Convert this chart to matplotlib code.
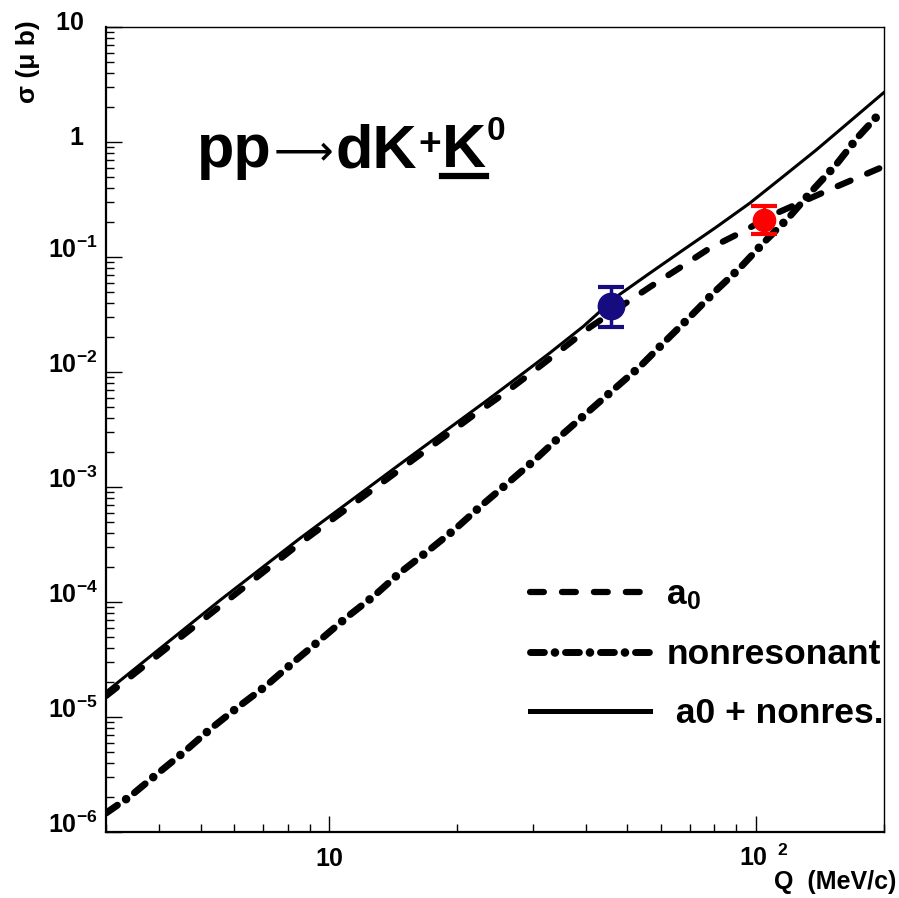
import numpy as np
import matplotlib
matplotlib.use('Agg')
import matplotlib.pyplot as plt
import matplotlib._mathtext as mathtext_internals
from matplotlib.ticker import FixedLocator, FixedFormatter, NullFormatter
from matplotlib.lines import Line2D
from matplotlib.legend_handler import HandlerTuple
from matplotlib.transforms import ScaledTranslation

plt.rcParams['font.family'] = ['Liberation Sans', 'DejaVu Sans']
plt.rcParams['font.weight'] = 'bold'
plt.rcParams['mathtext.fontset'] = 'custom'
plt.rcParams['mathtext.rm'] = 'Liberation Sans:bold'
plt.rcParams['mathtext.it'] = 'Liberation Sans:bold'
plt.rcParams['mathtext.bf'] = 'Liberation Sans:bold'
plt.rcParams['lines.scale_dashes'] = False
# exponents sit above the digits, like ROOT labels
mathtext_internals.FontConstantsBase.subdrop = -0.1

# a0 resonance contribution, sigma in mu b vs Q in MeV/c
q_a0 = [3.0, 8.55, 14.67, 21.8, 25.6, 30.1, 35.4, 40.9, 48.9, 56.5, 65.2,
        78.0, 91.7, 111.8, 154.5, 195.0]
sig_a0 = [1.52e-5, 3.24e-4, 1.42e-3, 4.2e-3, 6.4e-3, 1.01e-2, 1.61e-2,
          2.45e-2, 3.83e-2, 5.48e-2, 7.71e-2, 0.119, 0.161, 0.240, 0.408, 0.59]

# nonresonant part
q_nonres = [3.0, 3.41, 3.95, 4.58, 5.26, 6.10, 7.11, 8.22, 9.48, 11.0, 12.75,
            14.67, 17.09, 19.73, 22.79, 26.39, 30.37, 34.75, 40.13, 46.34,
            53.5, 61.2, 70.0, 80.2, 91.7, 105.0, 120.1, 136.2, 154.5, 173.6,
            198.0]
sig_nonres = [1.46e-6, 2.03e-6, 3.19e-6, 4.99e-6, 7.82e-6, 1.21e-5, 1.86e-5,
              2.96e-5, 4.60e-5, 7.36e-5, 1.13e-4, 1.80e-4, 2.79e-4, 4.29e-4,
              6.93e-4, 1.10e-3, 1.72e-3, 2.74e-3, 4.37e-3, 6.98e-3, 1.11e-2,
              1.83e-2, 2.99e-2, 4.99e-2, 7.97e-2, 0.136, 0.224, 0.383, 0.636,
              1.10, 1.87]

# sum of both
q_sum = [3.0, 5.56, 8.55, 14.67, 22.98, 27.5, 32.9, 39.4, 47.2, 56.5, 67.6,
         80.9, 96.8, 115.9, 138.7, 166.0, 200.0]
sig_sum = [1.65e-5, 1.04e-4, 3.58e-4, 1.58e-3, 5.35e-3, 8.81e-3, 1.46e-2,
           2.48e-2, 4.52e-2, 7.24e-2, 0.115, 0.182, 0.293, 0.499, 0.852, 1.50,
           2.70]

# measured points
q_blue = [45.8]
sig_blue = [0.0375]
blue_lo = [0.013]
blue_hi = [0.017]
q_red = [104.4]
sig_red = [0.21]
red_lo = [0.053]
red_hi = [0.069]

legend_labels = [r'a$_0$', 'nonresonant', ' a0 + nonres.']
ytick_vals = [1e-6, 1e-5, 1e-4, 1e-3, 1e-2, 1e-1, 1, 10]
ytick_labels = [r'$10^{-6}$', r'$10^{-5}$', r'$10^{-4}$', r'$10^{-3}$',
                r'$10^{-2}$', r'$10^{-1}$', '1  ', '10  ']
xtick_vals = [10, 100]
xtick_labels = ['10', r'$10^{\ \ 2}$']

W, H = 899, 898
fig = plt.figure(figsize=(W / 100, H / 100), dpi=100)
ax = fig.add_axes([106 / W, 1 - 832 / H, (884 - 106) / W, (832 - 27) / H])
ax.set_xscale('log')
ax.set_yscale('log')

l_sum, = ax.plot(q_sum, sig_sum, color='black', lw=2.2, solid_joinstyle='round')
# dashes given in points (scale_dashes off)
l_a0, = ax.plot(q_a0, sig_a0, color='black', lw=4.5, dashes=(10.0, 13.0),
                dash_capstyle='round')
# dash-dot: dashes plus slightly fatter dots on the same curve
l_nr, = ax.plot(q_nonres, sig_nonres, color='black', lw=5.0,
                dashes=(10.0, 15.2), dash_capstyle='round')
l_nr_dots, = ax.plot(q_nonres, sig_nonres, color='black', lw=6.2,
                     linestyle=(7.6, (0.01, 25.19)), dash_capstyle='round')

ax.errorbar(q_blue, sig_blue, yerr=[blue_lo, blue_hi], fmt='o', color='#160c80',
            ms=19, capsize=9.5, capthick=3, elinewidth=2.5, zorder=5)
ax.errorbar(q_red, sig_red, yerr=[red_lo, red_hi], fmt='o', color='#ff0000',
            ms=16, capsize=9.5, capthick=3, elinewidth=2.5, zorder=5)

ax.set_xlim(3, 200)
ax.set_ylim(1e-6, 10)

ax.yaxis.set_major_locator(FixedLocator(ytick_vals))
ax.yaxis.set_major_formatter(FixedFormatter(ytick_labels))
ymin = [m * 10.0**e for e in range(-6, 1) for m in range(2, 10)]
ax.yaxis.set_minor_locator(FixedLocator(ymin))
ax.yaxis.set_minor_formatter(NullFormatter())
ax.xaxis.set_major_locator(FixedLocator(xtick_vals))
ax.xaxis.set_major_formatter(FixedFormatter(xtick_labels))
xmin = [3, 4, 5, 6, 7, 8, 9, 20, 30, 40, 50, 60, 70, 80, 90, 200]
ax.xaxis.set_minor_locator(FixedLocator(xmin))
ax.xaxis.set_minor_formatter(NullFormatter())

ax.tick_params(which='both', direction='in', top=False, right=False, width=1,
               labelsize=18)
ax.tick_params(which='major', length=11.5)
ax.tick_params(which='minor', length=5.8)
ax.tick_params(axis='y', pad=6)
ax.tick_params(axis='x', pad=11)
for s in ['left', 'bottom']:
    ax.spines[s].set_linewidth(1.6)
for s in ['top', 'right']:
    ax.spines[s].set_linewidth(1.0)

leg = ax.legend([l_a0, (l_nr, l_nr_dots), l_sum], legend_labels,
                handler_map={tuple: HandlerTuple(ndivide=1)},
                loc='upper left', bbox_to_anchor=(530 / W, 1 - 578 / H),
                bbox_transform=fig.transFigure, frameon=False, fontsize=25.5,
                handlelength=3.4, handletextpad=0.45, borderpad=0,
                borderaxespad=0, labelspacing=0.74)
for ln in leg.get_lines():
    if ln.get_linestyle() == '-':
        ln.set_linewidth(3.6)

fig.text(28 / W, 1 - 62 / H, 'σ (μ b)', rotation=90, fontsize=19,
         ha='center', va='center')
fig.text(896 / W, 1 - 882 / H, 'Q  (MeV/c)', ha='right', va='center', fontsize=18)

# reaction title, built piece by piece
renderer = fig.canvas.get_renderer()


def piece(txt, x, base, size, **kw):
    t = fig.text(x / W, 1 - base / H, txt, fontsize=size, ha='left',
                 va='baseline', **kw)
    bb = t.get_window_extent(renderer)
    return t, bb


base = 167
x = 197
_, bb = piece('pp', x, base, 44)
x = bb.x1 + 2
_, bb = piece('⟶', x, base - 3, 30, family='DejaVu Sans', weight='normal')
x = bb.x1 + 2
_, bb = piece('dK', x, base, 44)
x = bb.x1 + 1
_, bb = piece('+', x, base - 12, 28)
x = bb.x1 + 1
_, bbk = piece('K', x, base, 44)
x = bbk.x1 + 1
_, bb = piece('0', x, base - 27, 24)
fig.add_artist(Line2D([bbk.x0 / W, bbk.x1 / W], [1 - 176 / H, 1 - 176 / H],
                      transform=fig.transFigure, color='black', lw=4.5))

# place the tick labels the way ROOT does: digits a bit above the tick
fig.canvas.draw()
digit_h = 0.716 * 18 * 100 / 72
for t, v in zip(ax.yaxis.get_major_ticks(), ytick_vals):
    lab = t.label1
    if lab.get_text().startswith('$'):
        bb = lab.get_window_extent(renderer)
        tick_y = ax.transData.transform((3, v))[1]
        lift = (tick_y + 3 - (bb.y0 + digit_h / 2)) / 100
    else:
        lift = 5 / 72
    lab.set_transform(lab.get_transform() +
                      ScaledTranslation(0, lift, fig.dpi_scale_trans))

xt = ax.xaxis.get_major_ticks()
b0 = xt[0].label1.get_window_extent(renderer)
b1 = xt[1].label1.get_window_extent(renderer)
_, _, desc = renderer.get_text_width_height_descent(
    '10', xt[0].label1.get_fontproperties(), ismath=False)
lift = (b0.y0 + desc - b1.y0) / 100
xt[1].label1.set_transform(xt[1].label1.get_transform() +
                           ScaledTranslation(8 / 100, lift, fig.dpi_scale_trans))

fig.savefig('out.png', dpi=100)
